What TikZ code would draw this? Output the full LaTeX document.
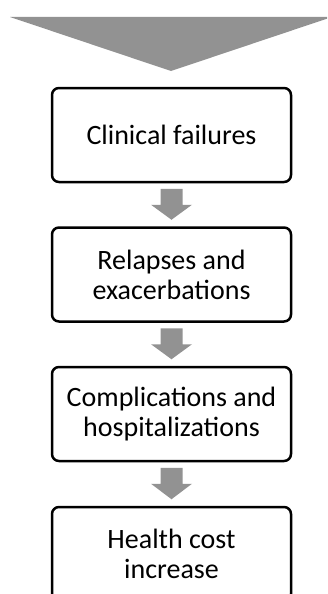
\documentclass[tikz,border=0pt]{standalone}
\usepackage{fontspec}
\setmainfont{Carlito}
\usetikzlibrary{calc}
\definecolor{arrowgray}{RGB}{146,146,146}
\tikzset{
  stagebox/.style={draw=black, line width=2.5pt, rounded corners=7pt, fill=white,
    minimum width=239pt, minimum height=94pt, align=center, inner sep=0pt,
    font=\fontsize{28}{30}\selectfont},
  blockfill/.style={fill=arrowgray, draw=none}
}
\newcommand{\stagearrow}[2]{%
  \fill[blockfill] ($(#1.south)+(-11,-5.5)$) -- ($(#1.south)+(11,-5.5)$)
    -- ($(#1.south)+(11,-21.5)$) -- ($(#1.south)+(20.5,-21.5)$)
    -- ($(#2.north)+(0,6.5)$)
    -- ($(#1.south)+(-20.5,-21.5)$) -- ($(#1.south)+(-11,-21.5)$) -- cycle;}
\begin{document}
\begin{tikzpicture}[x=1pt,y=1pt]
\useasboundingbox (0,0) rectangle (327,-594);
\clip (0,0) rectangle (327,-594);
\fill[blockfill] (10,-17) -- (332,-17) -- (171,-71) -- cycle;
\node[stagebox] (b1) at (171.5,-135) {Clinical failures};
\node[stagebox] (b2) at (171.5,-274.5) {Relapses and\\exacerbations};
\node[stagebox] (b3) at (171.5,-414) {Complications and\\hospitalizations};
\node[stagebox] (b4) at (171.5,-554) {Health cost\\increase};
\stagearrow{b1}{b2}
\stagearrow{b2}{b3}
\stagearrow{b3}{b4}
\end{tikzpicture}
\end{document}
